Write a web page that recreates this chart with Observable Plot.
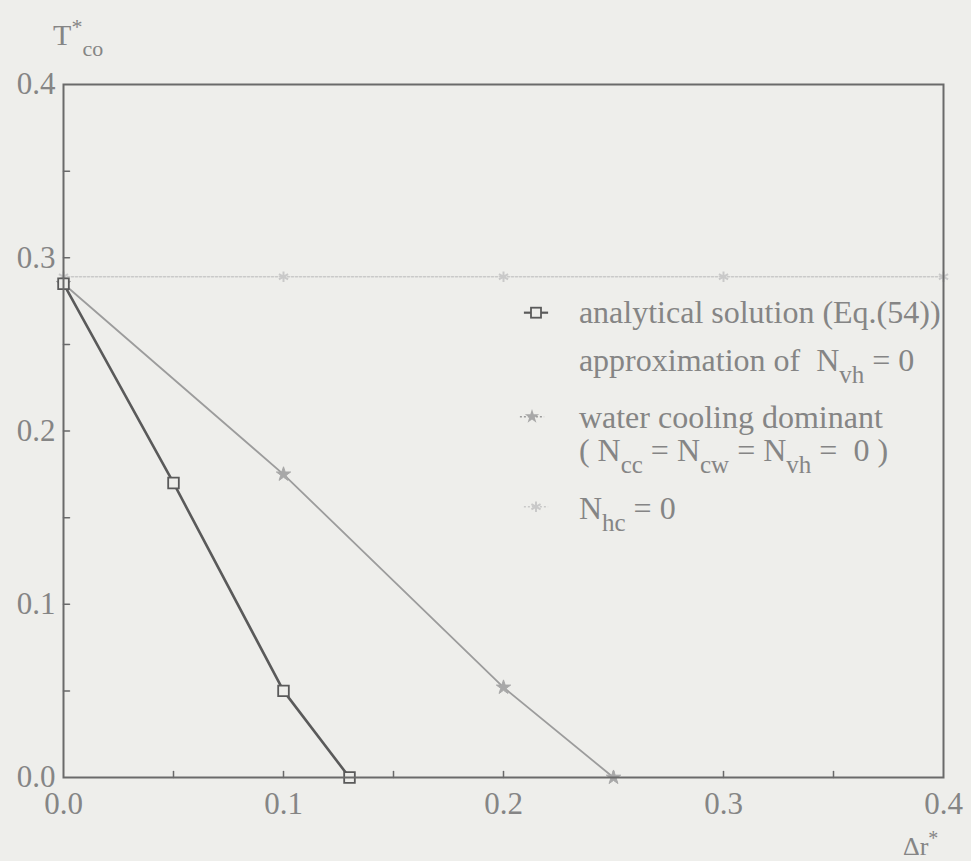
<!DOCTYPE html>
<html><head><meta charset="utf-8">
<script src="https://cdn.jsdelivr.net/npm/d3@7"></script>
<script src="https://cdn.jsdelivr.net/npm/@observablehq/plot@0.6"></script>
<style>
html,body{margin:0;padding:0;background:#eeeeeb;}
#chart svg{display:block;}
</style></head><body><div id="chart"></div>
<script>
// ---- data ----
const analyticalX = [0, 0.05, 0.1, 0.13];
const analyticalY = [0.285, 0.17, 0.05, 0];
const waterX = [0, 0.1, 0.2, 0.25];
const waterY = [0.285, 0.175, 0.052, 0];
const nhcX = [0, 0.1, 0.2, 0.3, 0.4];
const nhcY = [0.289, 0.289, 0.289, 0.289, 0.289];
const xTickLabels = [0, 0.1, 0.2, 0.3, 0.4];
const yTickLabels = [0, 0.1, 0.2, 0.3, 0.4];
const minorTicks = [0.05, 0.1, 0.15, 0.2, 0.25, 0.3, 0.35];
const legendLabels = [
  [{t: "analytical solution (Eq.(54))"}],
  [{t: "approximation of  N"}, {t: "vh", sub: true}, {t: " = 0"}],
  [{t: "water cooling dominant"}],
  [{t: "( N"}, {t: "cc", sub: true}, {t: " = N"}, {t: "cw", sub: true}, {t: " = N"}, {t: "vh", sub: true}, {t: " =  0 )"}],
  [{t: "N"}, {t: "hc", sub: true}, {t: " = 0"}]
];

const bg = "#eeeeeb";
const textColor = "#858585";
const cA = "#5a5a5a", cW = "#9c9c9c", cN = "#c9c9c9";

const toPts = (xs, ys) => xs.map((x, i) => ({x, y: ys[i]}));
const analytical = toPts(analyticalX, analyticalY);
const water = toPts(waterX, waterY);
const nhc = toPts(nhcX, nhcY);

const tickShape = {draw(ctx, l) { ctx.moveTo(0, 0); ctx.lineTo(0, -l); }};

const plot = Plot.plot({
  width: 971, height: 861,
  marginLeft: 63, marginRight: 28, marginTop: 84, marginBottom: 84,
  style: {background: bg, color: textColor, fontFamily: "'Liberation Serif', 'Times New Roman', serif"},
  x: {domain: [0, 0.4]},
  y: {domain: [0, 0.4]},
  marks: [
    Plot.axisX(xTickLabels, {tickSize: 0, tickPadding: 14, tickFormat: d3.format(".1f"), fontSize: 31, label: null}),
    Plot.axisY(yTickLabels, {tickSize: 0, tickPadding: 8, tickFormat: d3.format(".1f"), fontSize: 31, label: null}),
    Plot.vector(minorTicks, {x: d => d, y: 0, length: 6, rotate: 0, anchor: "start", shape: tickShape, stroke: "#6a6a6a", strokeWidth: 1.5}),
    Plot.vector(minorTicks, {x: 0, y: d => d, length: 6, rotate: 90, anchor: "start", shape: tickShape, stroke: "#6a6a6a", strokeWidth: 1.5}),
    Plot.line(nhc, {x: "x", y: "y", stroke: cN, strokeWidth: 1.6, strokeDasharray: "2,2"}),
    Plot.dot(nhc, {x: "x", y: "y", symbol: "asterisk", r: 5, stroke: cN, strokeWidth: 2}),
    Plot.line(water, {x: "x", y: "y", stroke: cW, strokeWidth: 1.8}),
    Plot.dot(water, {x: "x", y: "y", symbol: "star", r: 4.5, fill: "#a8a8a8", stroke: "#a8a8a8", strokeWidth: 1}),
    Plot.line(analytical, {x: "x", y: "y", stroke: cA, strokeWidth: 2.6}),
    Plot.dot(analytical, {x: "x", y: "y", symbol: "square", r: 6, stroke: cA, fill: bg, strokeWidth: 1.8}),
    Plot.frame({stroke: "#6a6a6a", strokeWidth: 2})
  ]
});
document.getElementById("chart").appendChild(plot);

// ---- axis titles and legend (positioned through Plot's own scales) ----
const sx = plot.scale("x"), sy = plot.scale("y");
const svg = d3.select(plot);
const font = "'Liberation Serif', 'Times New Roman', serif";

function richText(g, x, y, segs, size, subSize, subDy) {
  const t = g.append("text").attr("x", x).attr("y", y)
    .attr("text-anchor", "start")
    .attr("font-family", font).attr("font-size", size).attr("fill", textColor);
  let shifted = 0;
  for (const s of segs) {
    const ts = t.append("tspan").text(s.t).attr("style", "white-space:pre");
    if (s.sub) {
      ts.attr("font-size", subSize).attr("dy", subDy - shifted); shifted = subDy;
    } else if (s.sup) {
      ts.attr("font-size", subSize).attr("dy", -subDy - shifted); shifted = -subDy;
    } else {
      ts.attr("dy", -shifted); shifted = 0;
    }
  }
  return t;
}

const titles = svg.append("g");
richText(titles, sx.apply(-0.0045), sy.apply(0.4225), [{t: "T"}, {t: "*", sup: true}, {t: "co", sub: true}], 30, 22, 11);
richText(titles, sx.apply(0.3818), sy.apply(-0.0452), [{t: "\u0394r"}, {t: "*", sup: true}], 26, 20, 10);

const lg = svg.append("g");
const textX = sx.apply(0.2345);
const rowBase = [0.262, 0.2345, 0.2015, 0.1826, 0.149];
legendLabels.forEach((segs, i) => richText(lg, textX, sy.apply(rowBase[i]), segs, 32, 25, 12));

// legend swatches
const swX0 = sx.apply(0.2095), swX1 = sx.apply(0.2205), swC = sx.apply(0.215);
const r1 = sy.apply(0.268), r3 = sy.apply(0.208), r5 = sy.apply(0.156);
lg.append("line").attr("x1", swX0).attr("x2", swX1).attr("y1", r1).attr("y2", r1).attr("stroke", cA).attr("stroke-width", 2.2);
lg.append("rect").attr("x", swC - 5).attr("y", r1 - 5).attr("width", 10).attr("height", 10).attr("fill", bg).attr("stroke", cA).attr("stroke-width", 1.8);
lg.append("line").attr("x1", swX0 - 4).attr("x2", swX1 - 4).attr("y1", r3).attr("y2", r3).attr("stroke", cW).attr("stroke-width", 1.5).attr("stroke-dasharray", "2,2");
lg.append("path").attr("d", d3.symbol(d3.symbolStar, Math.PI * 4.5 * 4.5)()).attr("transform", `translate(${swC - 4},${r3})`).attr("fill", "#a8a8a8");
lg.append("line").attr("x1", swX0).attr("x2", swX1).attr("y1", r5).attr("y2", r5).attr("stroke", cN).attr("stroke-width", 1.5).attr("stroke-dasharray", "2,2");
lg.append("path").attr("d", d3.symbol(d3.symbolAsterisk, Math.PI * 25)()).attr("transform", `translate(${swC},${r5})`).attr("fill", "none").attr("stroke", cN).attr("stroke-width", 2);
</script>
</body></html>
